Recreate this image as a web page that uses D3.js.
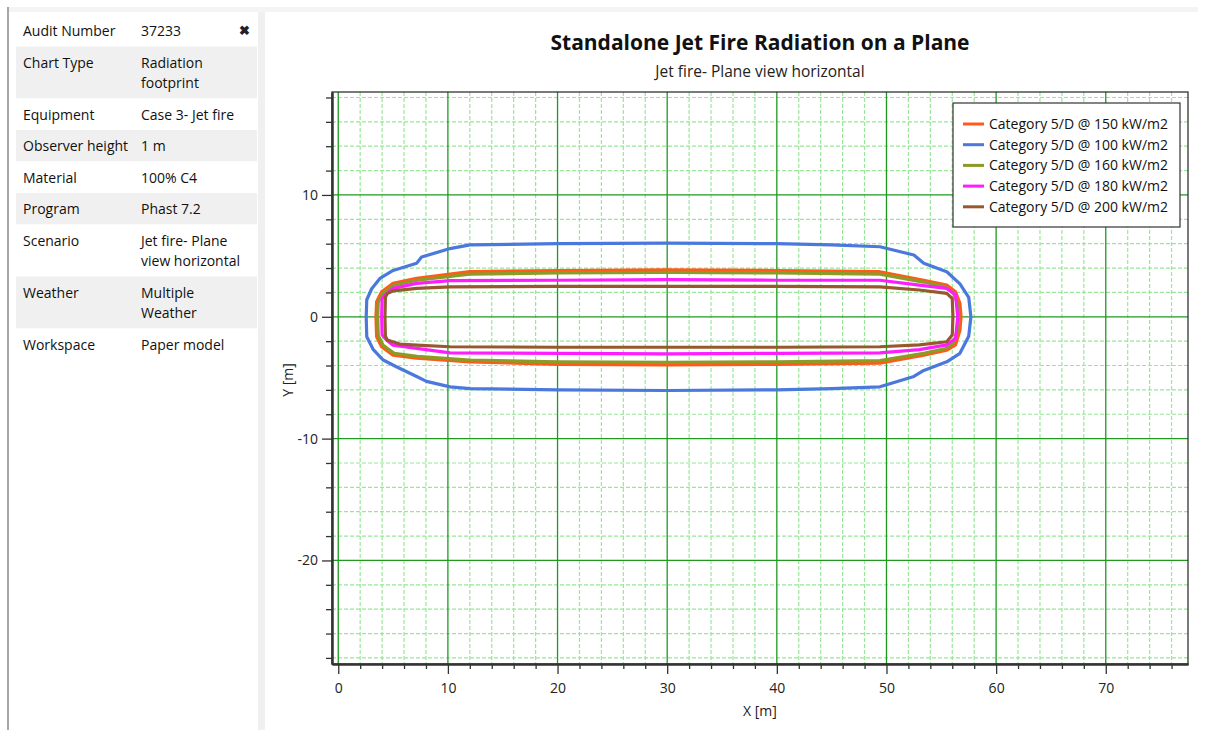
<!DOCTYPE html>
<html>
<head>
<meta charset="utf-8">
<script src="https://cdn.jsdelivr.net/npm/d3@7"></script>
<style>
  body { margin: 0; background: #fff; }
  svg { display: block; font-family: "Open Sans", "Noto Sans", sans-serif; }
</style>
</head>
<body>
<svg id="chart" width="1205" height="730"></svg>
<script>
// info table on the left
var infoLabels = ["Audit Number", "Chart Type", "Equipment", "Observer height", "Material", "Program", "Scenario", "Weather", "Workspace"];
var infoValues = [["37233"], ["Radiation", "footprint"], ["Case 3- Jet fire"], ["1 m"], ["100% C4"], ["Phast 7.2"], ["Jet fire- Plane", "view horizontal"], ["Multiple", "Weather"], ["Paper model"]];

// series (legend order)
var seriesNames = ["Category 5/D @ 150 kW/m2", "Category 5/D @ 100 kW/m2", "Category 5/D @ 160 kW/m2", "Category 5/D @ 180 kW/m2", "Category 5/D @ 200 kW/m2"];
var seriesColors = ["#ff5a1a", "#4a78dc", "#8c9a26", "#ff1cff", "#98582e"];

// contour points [x, y] in metres
var contour150 = [[3.44,0],[3.5,1.23],[3.96,2.05],[5.0,2.74],[7.15,3.15],[12,3.7],[20,3.8],[30,3.85],[40,3.8],[49.4,3.7],[53.4,3.0],[55.5,2.6],[56.3,2.05],[56.7,1.1],[56.8,0],[56.7,-1.1],[56.3,-2.3],[55.5,-2.74],[53.4,-3.15],[49.4,-3.8],[40,-3.9],[30,-3.95],[20,-3.9],[12,-3.7],[7.15,-3.4],[5.0,-3.15],[3.96,-2.46],[3.5,-1.64]];
var contour100 = [[2.55,0],[2.6,1.4],[3.05,2.3],[3.8,3.15],[5.0,3.8],[7.15,4.4],[7.6,4.9],[10.2,5.6],[12,5.9],[20,6.0],[30,6.05],[40,6.0],[45,5.9],[49.4,5.75],[52.5,5.07],[53.4,4.4],[55.5,3.7],[56.7,2.7],[57.5,1.6],[57.7,0],[57.5,-1.6],[56.7,-3.0],[55.5,-3.7],[53.4,-4.4],[52.5,-4.9],[49.4,-5.75],[45,-5.9],[40,-6.0],[30,-6.05],[20,-6.0],[12,-5.9],[10.2,-5.75],[8.05,-5.3],[7.15,-4.9],[5.3,-4.1],[4.1,-3.55],[3.2,-2.7],[2.6,-1.64]];
var contour160 = [[3.6,0],[3.65,1.2],[4.1,1.95],[5.1,2.6],[7.2,3.0],[12,3.5],[20,3.6],[30,3.65],[40,3.6],[49.4,3.5],[53.4,2.85],[55.4,2.45],[56.1,1.95],[56.5,1.05],[56.6,0],[56.5,-1.05],[56.1,-2.15],[55.4,-2.6],[53.4,-3.0],[49.4,-3.6],[40,-3.7],[30,-3.75],[20,-3.7],[12,-3.55],[7.2,-3.25],[5.1,-3.0],[4.1,-2.35],[3.65,-1.55]];
var contour180 = [[3.96,0],[4.0,1.5],[4.4,1.9],[5.0,2.33],[7.15,2.74],[10.2,2.96],[20,3.0],[30,3.05],[40,3.0],[49.4,3.0],[53,2.6],[55.5,2.33],[56.3,1.78],[56.5,0],[56.3,-1.78],[55.5,-2.3],[53,-2.7],[49.4,-2.96],[40,-3.0],[30,-3.05],[20,-3.0],[10.2,-2.96],[7.15,-2.6],[5.0,-2.33],[4.4,-1.9],[4.0,-1.5]];
var contour200 = [[4.26,0],[4.3,1.6],[4.47,1.9],[5.0,2.13],[7.15,2.33],[10.2,2.46],[20,2.5],[30,2.5],[40,2.5],[49.4,2.46],[53,2.2],[55.5,1.92],[56.0,1.5],[56.06,0],[56.0,-1.5],[55.5,-2.05],[53,-2.3],[49.4,-2.46],[40,-2.5],[30,-2.5],[20,-2.5],[10.2,-2.46],[7.15,-2.33],[5.6,-2.24],[4.47,-1.9],[4.3,-1.6]];
var contours = [contour150, contour100, contour160, contour180, contour200];

var xMajor = [0, 10, 20, 30, 40, 50, 60, 70];
var yMajor = [-20, -10, 0, 10];

var svg = d3.select("#chart");

//----- left info panel
svg.append("rect").attr("x", 0).attr("y", 0).attr("width", 1205).attr("height", 730).attr("fill", "#fff");
svg.append("rect").attr("x", 8).attr("y", 7).attr("width", 1190).attr("height", 5).attr("fill", "#f4f4f4");
svg.append("line").attr("x1", 8).attr("x2", 8).attr("y1", 7).attr("y2", 730).attr("stroke", "#8a8a8a").attr("stroke-width", 1.5);
svg.append("rect").attr("x", 258).attr("y", 12).attr("width", 7).attr("height", 718).attr("fill", "#f0f0f0");

var rowY = 15;
infoLabels.forEach(function (lab, i) {
  var lines = infoValues[i];
  var h = 31.5 + (lines.length - 1) * 20.5;
  svg.append("rect")
    .attr("x", 16).attr("y", rowY).attr("width", 241).attr("height", h)
    .attr("fill", i % 2 == 1 ? "#f0f0f0" : "#fff");
  svg.append("text")
    .attr("x", 23).attr("y", rowY + 21)
    .attr("font-size", 14).attr("fill", "#111")
    .text(lab);
  lines.forEach(function (t, j) {
    svg.append("text")
      .attr("x", 141).attr("y", rowY + 21 + j * 20.5)
      .attr("font-size", 14).attr("fill", "#111")
      .text(t);
  });
  rowY += h;
});
svg.append("text").attr("x", 244).attr("y", 35).attr("text-anchor", "middle")
  .attr("font-size", 13).attr("font-weight", "bold").attr("fill", "#222").text("\u2716");

//----- chart
var pLeft = 332, pRight = 1188, pTop = 92, pBottom = 664;
var x = d3.scaleLinear().domain([-0.57, 77.5]).range([pLeft, pRight]);
var y = d3.scaleLinear().domain([-28.5, 18.45]).range([pBottom, pTop]);

var minorX = d3.range(0, 78, 2).filter(function (v) { return v % 10 != 0; });
var minorY = d3.range(-28, 19, 2).filter(function (v) { return v % 10 != 0; });

var grid = svg.append("g");
grid.selectAll(".mx").data(minorX).enter().append("line")
  .attr("x1", function (d) { return x(d); }).attr("x2", function (d) { return x(d); })
  .attr("y1", pTop).attr("y2", pBottom)
  .attr("stroke", "#98e898").attr("stroke-width", 1.2).attr("stroke-dasharray", "4,2");
grid.selectAll(".my").data(minorY).enter().append("line")
  .attr("y1", function (d) { return y(d); }).attr("y2", function (d) { return y(d); })
  .attr("x1", pLeft).attr("x2", pRight)
  .attr("stroke", "#98e898").attr("stroke-width", 1.2).attr("stroke-dasharray", "4,2");
grid.selectAll(".Mx").data(xMajor).enter().append("line")
  .attr("x1", function (d) { return x(d); }).attr("x2", function (d) { return x(d); })
  .attr("y1", pTop).attr("y2", pBottom)
  .attr("stroke", "#1f9a1f").attr("stroke-width", 1.3);
grid.selectAll(".My").data(yMajor).enter().append("line")
  .attr("y1", function (d) { return y(d); }).attr("y2", function (d) { return y(d); })
  .attr("x1", pLeft).attr("x2", pRight)
  .attr("stroke", "#1f9a1f").attr("stroke-width", 1.3);

// contours
var line = d3.line()
  .x(function (d) { return x(d[0]); })
  .y(function (d) { return y(d[1]); })
  .curve(d3.curveLinearClosed);

svg.append("g").selectAll("path").data(contours).enter().append("path")
  .attr("d", line)
  .attr("fill", "none")
  .attr("stroke", function (d, i) { return seriesColors[i]; })
  .attr("stroke-width", 3.2)
  .attr("stroke-linejoin", "round");

// frame
svg.append("rect").attr("x", pLeft).attr("y", pTop).attr("width", pRight - pLeft).attr("height", pBottom - pTop)
  .attr("fill", "none").attr("stroke", "#222").attr("stroke-width", 1.2);

// axes (hyphen minus like the original)
var fmt = function (d) { return String(d); };
var xAxis = d3.axisBottom(x).tickValues(xMajor).tickSize(10).tickSizeOuter(0).tickPadding(9).tickFormat(fmt);
var xMinorAxis = d3.axisBottom(x).tickValues(minorX).tickSize(5).tickSizeOuter(0).tickFormat("");
var yAxis = d3.axisLeft(y).tickValues(yMajor).tickSize(10).tickSizeOuter(0).tickPadding(4).tickFormat(fmt);
var yMinorAxis = d3.axisLeft(y).tickValues(minorY).tickSize(6).tickSizeOuter(0).tickFormat("");

function styleAxis(g) {
  g.select(".domain").attr("stroke", "#333").attr("stroke-width", 2);
  g.selectAll(".tick line").attr("stroke", "#333").attr("stroke-width", 1.3);
  g.selectAll("text").attr("font-size", 14).attr("fill", "#222").attr("font-family", "Open Sans, sans-serif");
}
svg.append("g").attr("transform", "translate(0," + pBottom + ")").call(xMinorAxis).call(styleAxis);
svg.append("g").attr("transform", "translate(0," + pBottom + ")").call(xAxis).call(styleAxis);
svg.append("g").attr("transform", "translate(" + pLeft + ",0)").call(yMinorAxis).call(styleAxis);
svg.append("g").attr("transform", "translate(" + pLeft + ",0)").call(yAxis).call(styleAxis);

// titles
svg.append("text").attr("x", 760).attr("y", 50).attr("text-anchor", "middle")
  .attr("font-size", 21).attr("font-weight", "bold").attr("fill", "#111")
  .text("Standalone Jet Fire Radiation on a Plane");
svg.append("text").attr("x", 760).attr("y", 77).attr("text-anchor", "middle")
  .attr("font-size", 15.5).attr("fill", "#222")
  .text("Jet fire- Plane view horizontal");
svg.append("text").attr("x", 760).attr("y", 716).attr("text-anchor", "middle")
  .attr("font-size", 14).attr("fill", "#222").text("X [m]");
svg.append("text").attr("transform", "translate(293,380) rotate(-90)").attr("text-anchor", "middle")
  .attr("font-size", 14).attr("fill", "#222").text("Y [m]");

// legend
var legend = svg.append("g").attr("transform", "translate(953,103)");
legend.append("rect").attr("width", 227).attr("height", 124)
  .attr("fill", "#fff").attr("stroke", "#333").attr("stroke-width", 1.2);
seriesNames.forEach(function (name, i) {
  var ry = 21 + i * 20.7;
  legend.append("line").attr("x1", 10).attr("x2", 31).attr("y1", ry).attr("y2", ry)
    .attr("stroke", seriesColors[i]).attr("stroke-width", 3);
  legend.append("text").attr("x", 36).attr("y", ry + 5)
    .attr("font-size", 14).attr("fill", "#111").text(name);
});
</script>
</body>
</html>
